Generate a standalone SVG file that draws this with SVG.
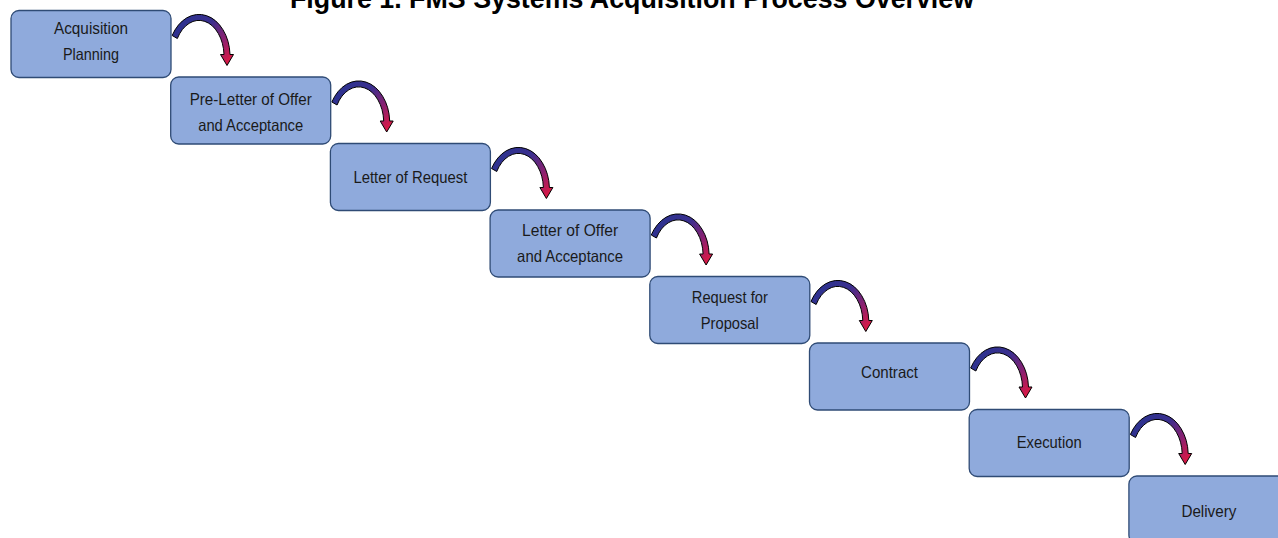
<svg xmlns="http://www.w3.org/2000/svg" width="1278" height="538" viewBox="0 0 1278 538">
  <style>
    .box { fill: #8FAADC; stroke: #2F4B75; stroke-width: 1.3; }
    .lbl { font-family: "Liberation Sans", Arial, sans-serif; font-size: 16.5px; fill: #1A1A1A; text-anchor: middle; }
    .title { font-family: "Liberation Sans", Arial, sans-serif; font-size: 26.8px; font-weight: bold; fill: #000; }
    .arr { fill: url(#grad); stroke: #000; stroke-width: 1; stroke-linejoin: miter; }
  </style>
  <defs>
    <linearGradient id="grad" x1="0" y1="0.2" x2="1" y2="0.9">
      <stop offset="0" stop-color="#2B3390"/>
      <stop offset="0.4" stop-color="#3A2F8E"/>
      <stop offset="0.7" stop-color="#8A2070"/>
      <stop offset="1" stop-color="#E5173F"/>
    </linearGradient>
  </defs>
  <rect width="1278" height="538" fill="#fff"/>
  <text class="title" x="290" y="7.5">Figure 1. FMS Systems Acquisition Process Overview</text>

  <g id="connectors">
    <path class="arr" transform="translate(171,10.5)" d="M1.15 25 A31 42 0 0 1 59 44 L62.5 44 L56 55 L49.5 44 L53 44 A25 36 0 0 0 6.35 28 Z"/>
    <path class="arr" transform="translate(330.7,77)" d="M1.15 25 A31 42 0 0 1 59 44 L62.5 44 L56 55 L49.5 44 L53 44 A25 36 0 0 0 6.35 28 Z"/>
    <path class="arr" transform="translate(490.4,143.5)" d="M1.15 25 A31 42 0 0 1 59 44 L62.5 44 L56 55 L49.5 44 L53 44 A25 36 0 0 0 6.35 28 Z"/>
    <path class="arr" transform="translate(650.1,210)" d="M1.15 25 A31 42 0 0 1 59 44 L62.5 44 L56 55 L49.5 44 L53 44 A25 36 0 0 0 6.35 28 Z"/>
    <path class="arr" transform="translate(809.8,276.5)" d="M1.15 25 A31 42 0 0 1 59 44 L62.5 44 L56 55 L49.5 44 L53 44 A25 36 0 0 0 6.35 28 Z"/>
    <path class="arr" transform="translate(969.5,343)" d="M1.15 25 A31 42 0 0 1 59 44 L62.5 44 L56 55 L49.5 44 L53 44 A25 36 0 0 0 6.35 28 Z"/>
    <path class="arr" transform="translate(1129.2,409.5)" d="M1.15 25 A31 42 0 0 1 59 44 L62.5 44 L56 55 L49.5 44 L53 44 A25 36 0 0 0 6.35 28 Z"/>
  </g>

  <g id="node1">
    <rect class="box" x="11" y="10.5" width="160" height="67" rx="8"/>
    <text class="lbl" x="91" y="34" textLength="74" lengthAdjust="spacingAndGlyphs">Acquisition</text>
    <text class="lbl" x="91" y="59.5" textLength="56" lengthAdjust="spacingAndGlyphs">Planning</text>
  </g>
  <g id="node2">
    <rect class="box" x="170.7" y="77" width="160" height="67" rx="8"/>
    <text class="lbl" x="250.7" y="105" textLength="122" lengthAdjust="spacingAndGlyphs">Pre-Letter of Offer</text>
    <text class="lbl" x="250.7" y="131" textLength="105" lengthAdjust="spacingAndGlyphs">and Acceptance</text>
  </g>
  <g id="node3">
    <rect class="box" x="330.4" y="143.5" width="160" height="67" rx="8"/>
    <text class="lbl" x="410.4" y="182.5" textLength="114" lengthAdjust="spacingAndGlyphs">Letter of Request</text>
  </g>
  <g id="node4">
    <rect class="box" x="490.1" y="210" width="160" height="67" rx="8"/>
    <text class="lbl" x="570.1" y="236" textLength="96" lengthAdjust="spacingAndGlyphs">Letter of Offer</text>
    <text class="lbl" x="570.1" y="262" textLength="106" lengthAdjust="spacingAndGlyphs">and Acceptance</text>
  </g>
  <g id="node5">
    <rect class="box" x="649.8" y="276.5" width="160" height="67" rx="8"/>
    <text class="lbl" x="729.8" y="303" textLength="76" lengthAdjust="spacingAndGlyphs">Request for</text>
    <text class="lbl" x="729.8" y="329" textLength="58" lengthAdjust="spacingAndGlyphs">Proposal</text>
  </g>
  <g id="node6">
    <rect class="box" x="809.5" y="343" width="160" height="67" rx="8"/>
    <text class="lbl" x="889.5" y="377.5" textLength="57" lengthAdjust="spacingAndGlyphs">Contract</text>
  </g>
  <g id="node7">
    <rect class="box" x="969.2" y="409.5" width="160" height="67" rx="8"/>
    <text class="lbl" x="1049.2" y="448" textLength="65" lengthAdjust="spacingAndGlyphs">Execution</text>
  </g>
  <g id="node8">
    <rect class="box" x="1128.9" y="476" width="160" height="67" rx="8"/>
    <text class="lbl" x="1208.9" y="516.5" textLength="55" lengthAdjust="spacingAndGlyphs">Delivery</text>
  </g>
</svg>
